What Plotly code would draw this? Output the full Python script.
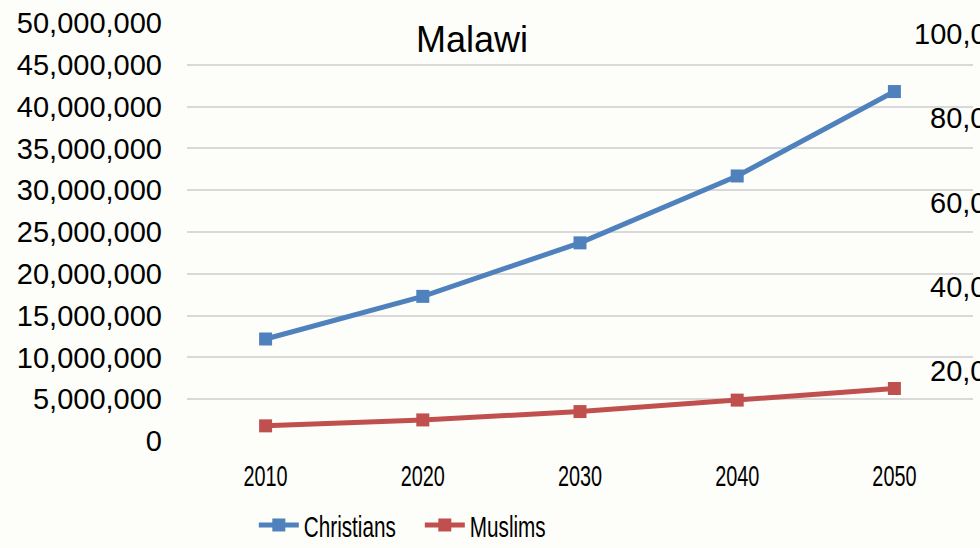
import plotly.graph_objects as go

# ---- data ----
years = [2010, 2020, 2030, 2040, 2050]
christians = [12200000, 17300000, 23700000, 31700000, 41800000]
muslims = [1810000, 2520000, 3520000, 4890000, 6280000]
left_ticks = [0, 5000000, 10000000, 15000000, 20000000, 25000000,
              30000000, 35000000, 40000000, 45000000, 50000000]
right_ticks = [20000, 40000, 60000, 80000, 100000]
right_tick_labels = ["20,000", "40,000", "60,000", "80,000", "100,000"]
chart_title = "Malawi"

BLUE = "#4F81BD"
RED = "#C0504D"
BG = "#fdfdf9"
GRID = "#d9d9d9"
FONT = "Liberation Sans, Arial, sans-serif"

fig = go.Figure()
fig.add_trace(go.Scatter(
    x=years, y=christians, name="Christians", mode="lines+markers",
    line=dict(color=BLUE, width=5),
    marker=dict(symbol="square", size=13, color=BLUE),
))
fig.add_trace(go.Scatter(
    x=years, y=muslims, name="Muslims", mode="lines+markers",
    line=dict(color=RED, width=5),
    marker=dict(symbol="square", size=13, color=RED),
))
# invisible carrier for the secondary (right) scale
fig.add_trace(go.Scatter(
    x=[years[0]], y=[right_ticks[0]], yaxis="y2", mode="markers",
    marker=dict(opacity=0), showlegend=False, hoverinfo="skip",
))

annotations = [
    dict(text=chart_title, xref="paper", yref="paper", x=0.3626, y=0.9597,
         xanchor="center", yanchor="middle", showarrow=False,
         font=dict(family=FONT, size=36, color="#000000"))
]
for v, t in zip(right_ticks, right_tick_labels):
    annotations.append(dict(
        text=t, xref="paper", yref="y2", x=1.061, y=v,
        xanchor="right", yanchor="middle", showarrow=False,
        font=dict(family=FONT, size=29, color="#000000")))

fig.update_layout(
    width=980, height=548,
    margin=dict(l=187, r=7, t=21, b=105),
    paper_bgcolor=BG, plot_bgcolor=BG,
    showlegend=True,
    legend=dict(orientation="h", x=0.085, xanchor="left",
                yref="container", y=0.042, yanchor="middle",
                itemwidth=40,
                entrywidth=111, entrywidthmode="pixels",
                font=dict(family=FONT, size=30, color="#000000"),
                bgcolor="rgba(0,0,0,0)"),
    xaxis=dict(range=[2005, 2055], tickvals=years, ticktext=[str(y) for y in years],
               showgrid=False, zeroline=False, showline=False, ticks="",
               ticklabelstandoff=14,
               tickfont=dict(family=FONT, size=30, color="#000000")),
    yaxis=dict(range=[0, 50000000], tickvals=left_ticks, tickformat=",d",
               showgrid=True, gridcolor=GRID, gridwidth=1.5,
               zeroline=False, showline=False, ticks="",
               ticklabelstandoff=24,
               tickfont=dict(family=FONT, size=29, color="#000000")),
    yaxis2=dict(range=[3300, 102700], overlaying="y", side="right", visible=False),
    annotations=annotations,
)

# remove default page margin and condense the narrow-font texts (x ticks, legend)
post = """
document.body.style.margin = '0';
var gd = document.getElementById('{plot_id}');
function squeeze(sel, k) {
  gd.querySelectorAll(sel).forEach(function (t) {
    var w = t.getComputedTextLength();
    t.setAttribute('textLength', (w * k).toFixed(1));
    t.setAttribute('lengthAdjust', 'spacingAndGlyphs');
  });
}
squeeze('.xtick text', 0.66);
squeeze('.legendtext', 0.69);
"""

fig.write_html("out.html", post_script=post, config={"displayModeBar": False})
